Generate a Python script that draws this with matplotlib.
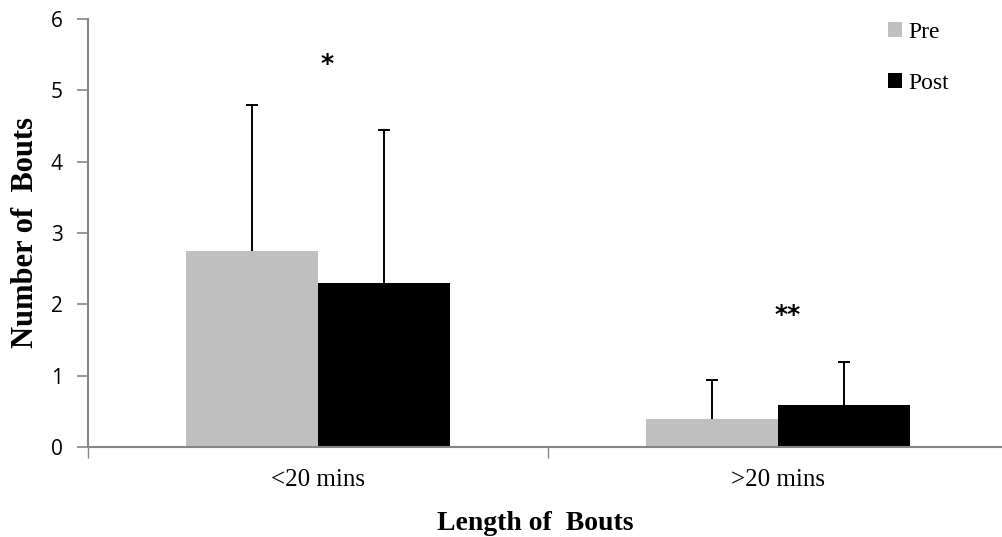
import numpy as np
import matplotlib
matplotlib.use('Agg')
from matplotlib import pyplot as plt
from matplotlib.ticker import FixedLocator, NullFormatter

categories = ['<20 mins', '>20 mins']
pre = [2.75, 0.39]
post = [2.30, 0.59]
pre_err = [2.05, 0.55]
post_err = [2.15, 0.60]
marks = ['*', '**']
mark_y = [5.37, 1.85]

serif = ['Liberation Serif', 'DejaVu Serif']
grey = '#868686'

fig = plt.figure(figsize=(10.03, 5.37), dpi=100)
ax = fig.add_axes([88 / 1003, 90 / 537, 920 / 1003, 428 / 537])

ind = np.arange(len(categories))
w = 0.287
ax.bar(ind - w / 2, pre, w, color='#bfbfbf', label='Pre', zorder=2)
ax.bar(ind + w / 2, post, w, color='black', label='Post', zorder=2)
for xs, ys, es in [(ind - w / 2, pre, pre_err), (ind + w / 2, post, post_err)]:
    eb = ax.errorbar(xs, ys, yerr=[np.zeros(2), es], fmt='none', ecolor='black',
                     elinewidth=1.4, capsize=4.5, capthick=1.4, zorder=1)
    # only keep the upper caps
    eb[1][0].set_visible(False)

for i, m in enumerate(marks):
    ax.text(i + 0.02, mark_y[i], m, ha='center', va='center', fontsize=18,
            fontweight='bold', family=['DejaVu Sans'])

ax.set_xlim(-0.5, 1.5)
ax.set_ylim(0, 6)
ax.set_yticks(np.arange(0, 7, 1))
ax.set_xticks(ind)
ax.set_xticklabels(categories, family=serif, fontsize=18)
ax.xaxis.set_minor_locator(FixedLocator([-0.5, 0.5, 1.5]))
ax.xaxis.set_minor_formatter(NullFormatter())
ax.tick_params(axis='x', which='major', length=0, pad=16)
ax.tick_params(axis='x', which='minor', length=8, width=1, color=grey, direction='out')
ax.tick_params(axis='y', length=8, width=1.2, color=grey, direction='out', pad=10, labelsize=15)
for lab in ax.get_yticklabels():
    lab.set_family(['Open Sans', 'DejaVu Sans'])

for s in ['top', 'right']:
    ax.spines[s].set_visible(False)
for s in ['left', 'bottom']:
    ax.spines[s].set_color(grey)
    ax.spines[s].set_linewidth(1.5)

ax.set_ylabel('Number of  Bouts', family=serif, fontsize=22, fontweight='bold', labelpad=8)
ax.set_xlabel('Length of  Bouts', family=serif, fontsize=20, fontweight='bold')
ax.xaxis.set_label_coords(0.486, -64 / 428)

ax.legend(loc='upper left', bbox_to_anchor=(800 / 920, 0.993), frameon=False,
          prop={'family': serif, 'size': 17}, labelspacing=1.25, handlelength=0.6,
          handleheight=0.6, handletextpad=0.25, borderaxespad=0, borderpad=0)

plt.savefig('out.png', dpi=100)
